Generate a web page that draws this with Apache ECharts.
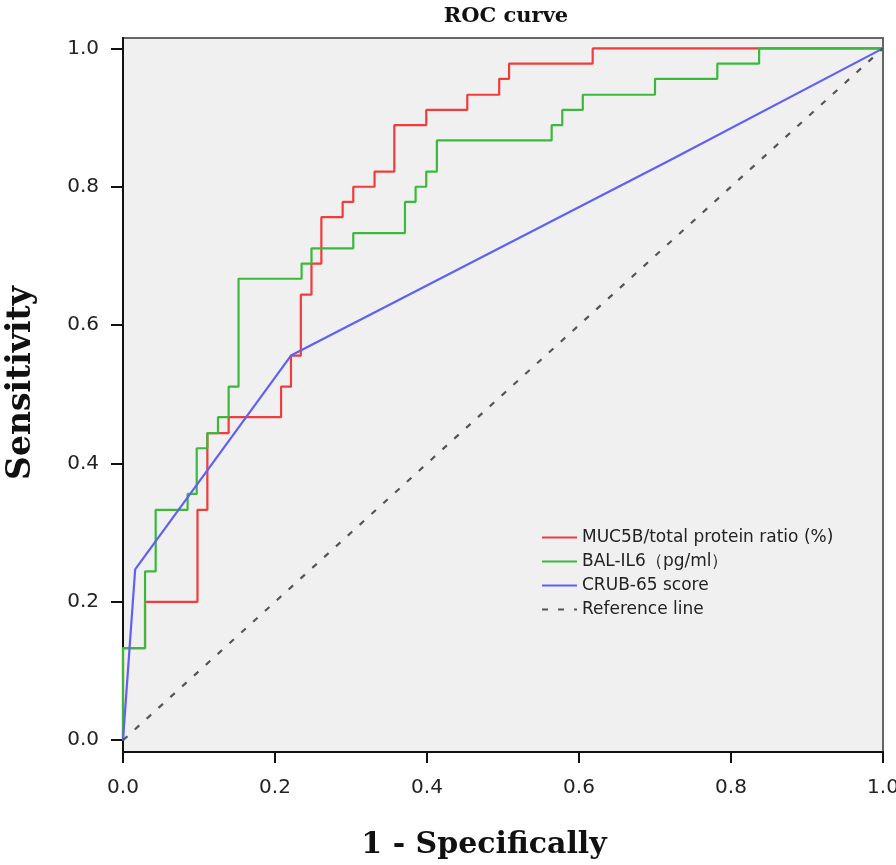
<!DOCTYPE html>
<html><head><meta charset="utf-8">
<script src="https://cdn.jsdelivr.net/npm/echarts@6/dist/echarts.min.js"></script>
<style>html,body{margin:0;padding:0;background:#fff}#c{width:896px;height:865px}</style>
</head><body><div id="c"></div>
<script>
const seriesNames = ['MUC5B/total protein ratio (%)', 'BAL-IL6（pg/ml）', 'CRUB-65 score', 'Reference line'];
const tickValues = [0, 0.2, 0.4, 0.6, 0.8, 1.0];

// ROC points (1 - specificity, sensitivity)
const mucX = [0, 0, 0.029, 0.098, 0.111, 0.139, 0.208, 0.221, 0.234, 0.248, 0.261, 0.289, 0.303, 0.331, 0.357, 0.399, 0.453, 0.495, 0.508, 0.618, 1];
const mucY = [0, 0.133, 0.2, 0.333, 0.444, 0.467, 0.511, 0.556, 0.644, 0.689, 0.756, 0.778, 0.8, 0.822, 0.889, 0.911, 0.933, 0.956, 0.978, 1, 1];

const il6X = [0, 0, 0.029, 0.043, 0.085, 0.097, 0.111, 0.125, 0.139, 0.152, 0.235, 0.248, 0.303, 0.371, 0.385, 0.399, 0.413, 0.564, 0.578, 0.605, 0.700, 0.782, 0.837, 1];
const il6Y = [0, 0.133, 0.244, 0.333, 0.356, 0.422, 0.444, 0.467, 0.511, 0.667, 0.689, 0.711, 0.733, 0.778, 0.8, 0.822, 0.867, 0.889, 0.911, 0.933, 0.956, 0.978, 1, 1];

const crbX = [0, 0.016, 0.221, 0.719, 1];
const crbY = [0, 0.247, 0.556, 0.838, 1];

const refX = [0, 1];
const refY = [0, 1];

const colors = ['#f03c3c', '#3cb83c', '#6060f6', '#555555'];

const zip = (xs, ys) => xs.map((x, i) => [x, ys[i]]);
const fmt = v => Number(v).toFixed(1);

const chart = echarts.init(document.getElementById('c'), null, {renderer: 'canvas'});
chart.setOption({
  animation: false,
  backgroundColor: '#ffffff',
  title: {
    text: 'ROC curve',
    left: 501, top: 1, textAlign: 'center',
    textStyle: {fontFamily: 'DejaVu Serif', fontWeight: 'bold', fontSize: 21, color: '#111'}
  },
  grid: {
    left: 123, right: 13, top: 38, bottom: 113,
    containLabel: false, outerBoundsMode: 'none',
    show: true, backgroundColor: '#f0f0f0', borderColor: '#666', borderWidth: 2
  },
  legend: {
    orient: 'vertical', left: 541, top: 528, padding: 0,
    itemWidth: 35, itemHeight: 14, itemGap: 5,
    itemStyle: {opacity: 0},
    data: seriesNames,
    textStyle: {fontFamily: 'DejaVu Sans', fontSize: 17, lineHeight: 19, color: '#222'}
  },
  xAxis: {
    type: 'value', min: 0, max: 1, interval: 0.2,
    name: '1 - Specifically', nameLocation: 'middle', nameGap: 78,
    nameTextStyle: {fontFamily: 'DejaVu Serif', fontWeight: 'bold', fontSize: 30, color: '#111', padding: [0, 38, 0, 0]},
    axisLine: {show: true, onZero: false, lineStyle: {color: '#111', width: 2}},
    axisTick: {show: true, inside: false, length: 11, lineStyle: {color: '#111', width: 2}},
    axisLabel: {formatter: fmt, margin: 26, fontFamily: 'DejaVu Sans', fontSize: 20, color: '#222', showMinLabel: true, showMaxLabel: true},
    splitLine: {show: false}
  },
  yAxis: {
    type: 'value', min: -0.017, max: 1.015,
    name: 'Sensitivity', nameLocation: 'middle', nameGap: 85, nameRotate: 90,
    nameTextStyle: {fontFamily: 'DejaVu Serif', fontWeight: 'bold', fontSize: 33, color: '#111', padding: [0, 0, 0, 24]},
    axisLine: {show: true, onZero: false, lineStyle: {color: '#111', width: 2}},
    axisTick: {show: true, inside: false, length: 12, customValues: tickValues, lineStyle: {color: '#111', width: 2}},
    axisLabel: {formatter: fmt, margin: 24, customValues: tickValues, fontFamily: 'DejaVu Sans', fontSize: 20, color: '#222'},
    splitLine: {show: false}
  },
  series: [
    {name: seriesNames[0], type: 'line', step: 'end', data: zip(mucX, mucY), symbol: 'none', color: colors[0], lineStyle: {width: 2.2, color: colors[0]}},
    {name: seriesNames[1], type: 'line', step: 'end', data: zip(il6X, il6Y), symbol: 'none', color: colors[1], lineStyle: {width: 2.2, color: colors[1]}},
    {name: seriesNames[2], type: 'line', data: zip(crbX, crbY), symbol: 'none', color: colors[2], lineStyle: {width: 2.2, color: colors[2]}},
    {name: seriesNames[3], type: 'line', data: zip(refX, refY), symbol: 'none', color: colors[3], lineStyle: {width: 2.2, color: colors[3], type: [6, 10]}}
  ]
});
</script>
</body></html>
